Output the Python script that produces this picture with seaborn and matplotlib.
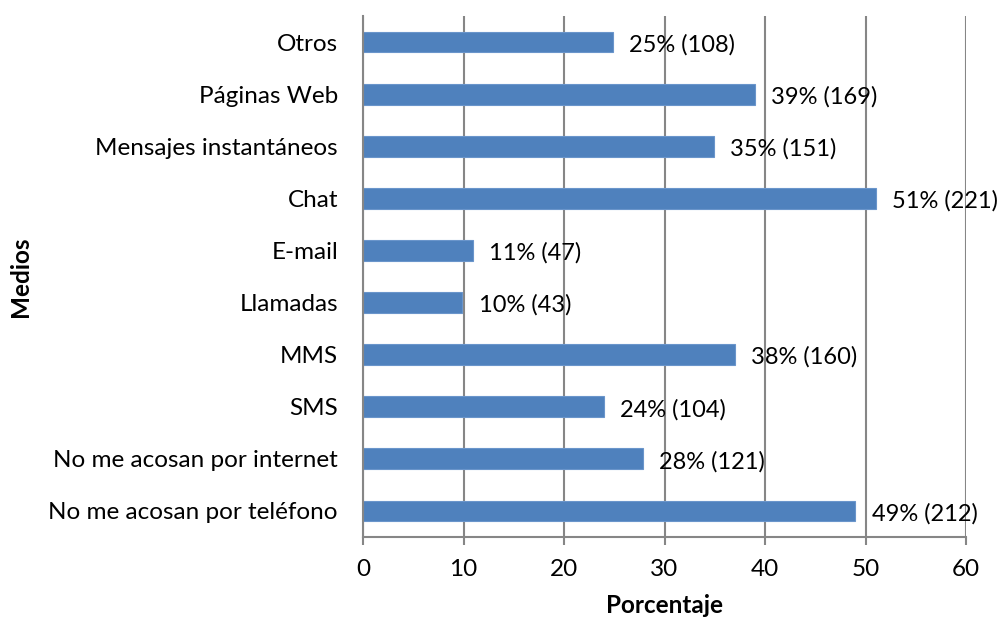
import matplotlib
matplotlib.use("Agg")
import matplotlib.pyplot as plt
import seaborn as sns
import pandas as pd

# Values (bars drawn top to bottom)
medios = [
    "Otros",
    "Páginas Web",
    "Mensajes instantáneos",
    "Chat",
    "E-mail",
    "Llamadas",
    "MMS",
    "SMS",
    "No me acosan por internet",
    "No me acosan por teléfono",
]
porcentaje = [24.9, 39.0, 34.9, 51.0, 10.9, 9.9, 37.0, 24.0, 27.9, 49.0]
etiquetas = [
    "25% (108)",
    "39% (169)",
    "35% (151)",
    "51% (221)",
    "11% (47)",
    "10% (43)",
    "38% (160)",
    "24% (104)",
    "28% (121)",
    "49% (212)",
]

df = pd.DataFrame({"medio": medios, "pct": porcentaje, "label": etiquetas})

sns.set_style("white")
plt.rcParams["font.family"] = ["Lato", "DejaVu Sans"]
plt.rcParams["text.color"] = "black"
plt.rcParams["axes.labelcolor"] = "black"
plt.rcParams["xtick.color"] = "black"
plt.rcParams["ytick.color"] = "black"

fig = plt.figure(figsize=(10.02, 6.22), dpi=100)
ax = fig.add_axes([363 / 1002, 1 - 537 / 622, (966 - 363) / 1002, (537 - 16) / 622])

sns.barplot(data=df, x="pct", y="medio", orient="h", color="#4F81BD",
            saturation=1, width=0.4, edgecolor="#6A95CB", linewidth=0.8, ax=ax)

for i, row in df.iterrows():
    ax.text(row["pct"] + 1.6, i + 0.05, row["label"], va="center", ha="left",
            fontsize=17, color="black", zorder=4)

ax.set_xlim(0, 60)
ax.set_xticks(range(0, 61, 10))
ax.grid(axis="x", color="#868686", linewidth=1.5)
ax.set_axisbelow(True)
for s in ["top", "right"]:
    ax.spines[s].set_visible(False)
for s in ["left", "bottom"]:
    ax.spines[s].set_color("#868686")
    ax.spines[s].set_linewidth(1.5)

ax.tick_params(axis="x", which="major", direction="out", length=6, width=1.5,
               color="#868686", labelcolor="black", labelsize=17.5, pad=10,
               bottom=True)
ax.tick_params(axis="y", length=0, labelsize=17.5, pad=18, labelcolor="black")
ax.set_xlabel("Porcentaje", fontsize=17.5, fontweight="bold", labelpad=10)
ax.set_ylabel("Medios", fontsize=17.5, fontweight="bold")
ax.yaxis.set_label_coords(-(363 - 32) / 603, 0.5)

fig.savefig("out.png", dpi=100)
